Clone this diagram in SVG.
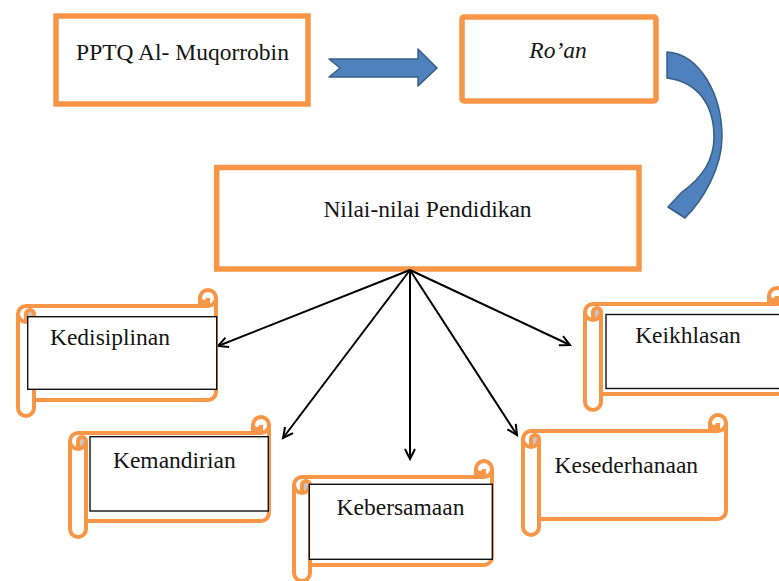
<svg xmlns="http://www.w3.org/2000/svg" width="779" height="581" viewBox="0 0 779 581">
<style>
.box{fill:#fff;stroke:#F79646;stroke-width:5.5}
.sc{fill:#fff;stroke:#F79646;stroke-width:4;stroke-linejoin:round}
.scd{fill:none;stroke:#F79646;stroke-width:4;stroke-linecap:round}
.gr{fill:#C8C8C8;stroke:none}
.tb{fill:#fff;stroke:#111;stroke-width:1.4}
text{font-size:23.5px;fill:#151515;text-anchor:middle}
.cn{stroke:#000;stroke-width:2;fill:none}
.blue{fill:#4F81BD;stroke:#385D8A;stroke-width:1.5;stroke-linejoin:round}
</style>
<defs>
<marker id="ah" markerWidth="14" markerHeight="14" refX="11" refY="6" orient="auto" markerUnits="userSpaceOnUse">
<path d="M1,1 L11,6 L1,11" fill="none" stroke="#000" stroke-width="2"/>
</marker>
</defs>
<rect width="779" height="581" fill="#fff"/>

<g id="pptq">
<rect class="box" x="56" y="16" width="252" height="88"/>
<text font-family="Liberation Serif, serif" x="182.5" y="60">PPTQ Al- Muqorrobin</text>
</g>

<g id="arrow-right">
<path class="blue" d="M329,59 L418,59 L418,49 L437,68 L418,86 L418,77 L329,77 L340,68 Z"/>
</g>

<g id="roan">
<rect class="box" x="462" y="17" width="194" height="84" rx="2"/>
<text font-family="Liberation Serif, serif" font-style="italic" x="558" y="58">Ro’an</text>
</g>

<g id="arrow-curve">
<path class="blue" d="M667,52 C700,54 722,95 722,137 C722,168 703,200 685,218 L668,207 L682,192 C702,178 714,160 714,137 C714,105 698,82 667,78 Z"/>
</g>

<g id="nilai">
<rect class="box" x="216.7" y="167.5" width="422.3" height="101.5"/>
<text font-family="Liberation Serif, serif" x="427.5" y="217">Nilai-nilai Pendidikan</text>
</g>

<g id="connectors">
<line class="cn" x1="410" y1="270" x2="218" y2="346" marker-end="url(#ah)"/>
<line class="cn" x1="410" y1="270" x2="283" y2="438" marker-end="url(#ah)"/>
<line class="cn" x1="410" y1="270" x2="410" y2="459" marker-end="url(#ah)"/>
<line class="cn" x1="410" y1="270" x2="517" y2="435" marker-end="url(#ah)"/>
<line class="cn" x1="410" y1="270" x2="570" y2="345" marker-end="url(#ah)"/>
</g>

<g id="kedisiplinan">
<g transform="translate(18,290)">
<path class="sc" d="M0,24 A8,8 0 0 1 8,16 L182,16 L182,8 A8,8 0 0 1 198,8 L198,102 A8,8 0 0 1 190,110 L16,110 L16,118 A8,8 0 0 1 0,118 Z"/>
<path class="gr" d="M182,8 A4,4 0 0 0 190,8 L190,16 A8,8 0 0 1 182,8 Z M8,24 A4,4 0 0 1 16,24 A8,8 0 0 1 8,32 Z"/>
<path class="scd" d="M182,16 L190,16 A8,8 0 0 0 198,8 M190,16 L190,8 A4,4 0 0 1 182,8 M8,32 L8,24 A4,4 0 0 1 16,24 A8,8 0 0 1 0,24 M16,24 L16,110"/>
</g>
<rect class="tb" x="27.7" y="316.7" width="189" height="72.6"/>
<text font-family="Liberation Serif, serif" x="110" y="345">Kedisiplinan</text>
</g>

<g id="keikhlasan">
<g transform="translate(585,288)">
<path class="sc" d="M0,24 A8,8 0 0 1 8,16 L184,16 L184,8 A8,8 0 0 1 200,8 L200,98 A8,8 0 0 1 192,106 L16,106 L16,114 A8,8 0 0 1 0,114 Z"/>
<path class="gr" d="M184,8 A4,4 0 0 0 192,8 L192,16 A8,8 0 0 1 184,8 Z M8,24 A4,4 0 0 1 16,24 A8,8 0 0 1 8,32 Z"/>
<path class="scd" d="M184,16 L192,16 A8,8 0 0 0 200,8 M192,16 L192,8 A4,4 0 0 1 184,8 M8,32 L8,24 A4,4 0 0 1 16,24 A8,8 0 0 1 0,24 M16,24 L16,106"/>
</g>
<rect class="tb" x="606" y="314.5" width="200" height="74"/>
<text font-family="Liberation Serif, serif" x="688" y="343">Keikhlasan</text>
</g>

<g id="kemandirian">
<g transform="translate(70,417)">
<path class="sc" d="M0,24 A8,8 0 0 1 8,16 L183,16 L183,8 A8,8 0 0 1 199,8 L199,96 A8,8 0 0 1 191,104 L16,104 L16,112 A8,8 0 0 1 0,112 Z"/>
<path class="gr" d="M183,8 A4,4 0 0 0 191,8 L191,16 A8,8 0 0 1 183,8 Z M8,24 A4,4 0 0 1 16,24 A8,8 0 0 1 8,32 Z"/>
<path class="scd" d="M183,16 L191,16 A8,8 0 0 0 199,8 M191,16 L191,8 A4,4 0 0 1 183,8 M8,32 L8,24 A4,4 0 0 1 16,24 A8,8 0 0 1 0,24 M16,24 L16,104"/>
</g>
<rect class="tb" x="90" y="436.7" width="178.3" height="74.3"/>
<text font-family="Liberation Serif, serif" x="174.3" y="468">Kemandirian</text>
</g>

<g id="kebersamaan">
<g transform="translate(294,461)">
<path class="sc" d="M0,24 A8,8 0 0 1 8,16 L182,16 L182,8 A8,8 0 0 1 198,8 L198,96 A8,8 0 0 1 190,104 L16,104 L16,112 A8,8 0 0 1 0,112 Z"/>
<path class="gr" d="M182,8 A4,4 0 0 0 190,8 L190,16 A8,8 0 0 1 182,8 Z M8,24 A4,4 0 0 1 16,24 A8,8 0 0 1 8,32 Z"/>
<path class="scd" d="M182,16 L190,16 A8,8 0 0 0 198,8 M190,16 L190,8 A4,4 0 0 1 182,8 M8,32 L8,24 A4,4 0 0 1 16,24 A8,8 0 0 1 0,24 M16,24 L16,104"/>
</g>
<rect class="tb" x="309.3" y="484.3" width="183" height="75"/>
<text font-family="Liberation Serif, serif" x="400.5" y="515">Kebersamaan</text>
</g>

<g id="kesederhanaan">
<g transform="translate(523,415)">
<path class="sc" d="M0,24 A8,8 0 0 1 8,16 L187,16 L187,8 A8,8 0 0 1 203,8 L203,96 A8,8 0 0 1 195,104 L16,104 L16,112 A8,8 0 0 1 0,112 Z"/>
<path class="gr" d="M187,8 A4,4 0 0 0 195,8 L195,16 A8,8 0 0 1 187,8 Z M8,24 A4,4 0 0 1 16,24 A8,8 0 0 1 8,32 Z"/>
<path class="scd" d="M187,16 L195,16 A8,8 0 0 0 203,8 M195,16 L195,8 A4,4 0 0 1 187,8 M8,32 L8,24 A4,4 0 0 1 16,24 A8,8 0 0 1 0,24 M16,24 L16,104"/>
</g>
<text font-family="Liberation Serif, serif" x="626.3" y="473">Kesederhanaan</text>
</g>
</svg>
